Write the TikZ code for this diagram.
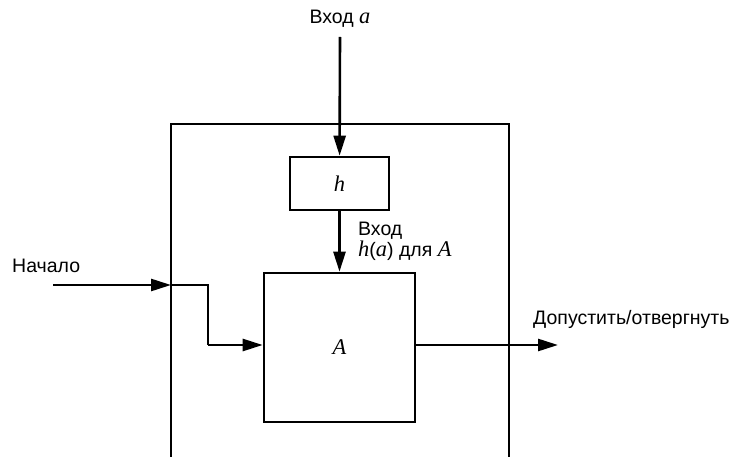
\documentclass[tikz,border=0pt]{standalone}
\usepackage{fontspec}
\setmainfont{Liberation Sans}
\newfontfamily\serifface[Scale=1.15]{Liberation Serif}
\newcommand{\itvar}[1]{{\serifface\itshape #1}}
\usetikzlibrary{arrows.meta,positioning}
\tikzset{
  blockbox/.style={
    draw=black,
    line width=2.6pt,
    fill=white,
    inner sep=0pt,
    font=\fontsize{19.5}{22}\selectfont
  },
  lbl/.style={
    inner sep=0pt,
    font=\fontsize{19.5}{16}\selectfont
  },
  arrow/.style={-{Triangle[length=20pt,width=12pt]}, line width=2.6pt},
  wire/.style={line width=2.6pt}
}

\begin{document}
\begin{tikzpicture}[x=1pt, y=-1pt]
  \useasboundingbox (0,0) rectangle (740,457);
  % outer frame, open at the bottom
  \draw[wire] (171,457) -- (171,124) -- (509,124) -- (509,457);
  \node[blockbox, minimum width=99pt, minimum height=53pt] (h) at (339.5,183.5) {\itvar{h}};
  \node[blockbox, minimum width=151pt, minimum height=149pt] (A) at (339.5,347.5) {\itvar{A}};
  \node[lbl] (ina) at (340,19) {Вход \itvar{a}};
  \coordinate (inaend) at (340,37);
  \node[lbl, anchor=north west, align=left] (inha) at (358,222) {Вход\\\itvar{h}(\itvar{a}) для \itvar{A}};
  \node[lbl, anchor=west] (start) at (12,266) {Начало};
  \coordinate (startend) at (53,285);
  \coordinate (frameleft) at (171,285);
  \node[lbl, anchor=west] (verdict) at (533,319) {Допустить/отвергнуть};
  \coordinate (verdictend) at (558,345);
  \draw[arrow] (inaend) -- (h);
  \draw[arrow] (h) -- (A);
  \draw[arrow] (startend) -- (frameleft);
  \draw[wire] (frameleft) -- (208,285) -- (208,345);
  \draw[arrow] (208,345) -- (A.west |- 0,345);
  \draw[arrow] (A.east |- 0,345) -- (verdictend);
\end{tikzpicture}
\end{document}
